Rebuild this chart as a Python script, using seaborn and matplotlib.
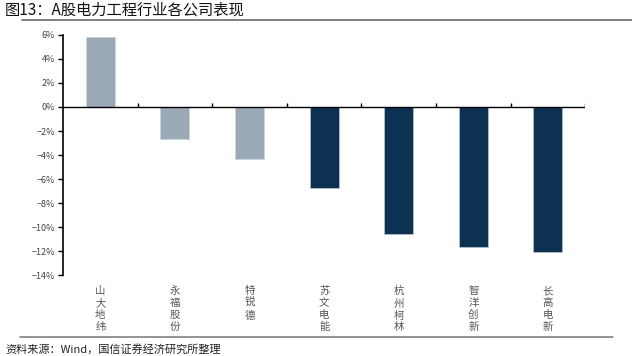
import numpy as np
import pandas as pd
import seaborn as sns
import matplotlib.pyplot as plt
from matplotlib.lines import Line2D
from matplotlib.ticker import FuncFormatter

# data
companies = ["山大地纬", "永福股份", "特锐德", "苏文电能", "杭州柯林", "智洋创新", "长高电新"]
returns = [5.8, -2.7, -4.3, -6.75, -10.6, -11.7, -12.1]
groups = ["a", "a", "a", "b", "b", "b", "b"]
yticks = [6, 4, 2, 0, -2, -4, -6, -8, -10, -12, -14]

df = pd.DataFrame({"company": companies, "ret": returns, "grp": groups})

sns.set_style("white")
plt.rcParams["font.family"] = ["Noto Sans CJK SC", "DejaVu Sans"]
plt.rcParams["axes.unicode_minus"] = True

fig = plt.figure(figsize=(6.32, 3.56), dpi=100)
ax = fig.add_axes([0.0997, 0.2275, 0.8263, 0.6742])

sns.barplot(data=df, x="company", y="ret", hue="grp", dodge=False, width=0.39,
            palette={"a": "#98a9bb", "b": "#00315f"}, legend=False, ax=ax,
            edgecolor="#c8d2dc", linewidth=0.4)

ax.set_xlim(-0.5, len(companies) - 0.5)
ax.set_ylim(-14, 6)
ax.set_yticks(yticks)
ax.yaxis.set_major_formatter(FuncFormatter(lambda v, p: f"{v:.0f}%".replace("-", "−")))
ax.tick_params(axis="y", direction="out", length=3.5, width=1, color="black",
               labelsize=6.5, labelcolor="#444444", pad=2, left=True)

ax.set_xticks(range(len(companies)))
ax.set_xticklabels(["\n".join(c) for c in companies], fontsize=7.5, color="#555555",
                   linespacing=1.25, va="top")
ax.tick_params(axis="x", length=0, pad=8)
ax.set_xlabel("")
ax.set_ylabel("")

for s in ["top", "right", "bottom"]:
    ax.spines[s].set_visible(False)
ax.spines["left"].set_color("black")
ax.spines["left"].set_linewidth(1.2)

# zero line with small category separators
ax.axhline(0, color="black", lw=1)
ax.vlines(np.arange(0.5, len(companies)), 0, 0.3, color="black", lw=1)

# header / footer rules
fig.add_artist(Line2D([0.035, 1.0], [0.945, 0.945], color="#777777", lw=1.3))
fig.add_artist(Line2D([0.032, 0.97], [0.053, 0.053], color="#777777", lw=1.1))

fig.text(0.008, 0.972, "图13：A股电力工程行业各公司表现", fontsize=11, color="#111111",
         va="center", ha="left")
fig.text(0.008, 0.02, "资料来源：Wind，国信证券经济研究所整理", fontsize=8, color="#222222",
         va="center", ha="left")

fig.savefig("out.png", dpi=100)
